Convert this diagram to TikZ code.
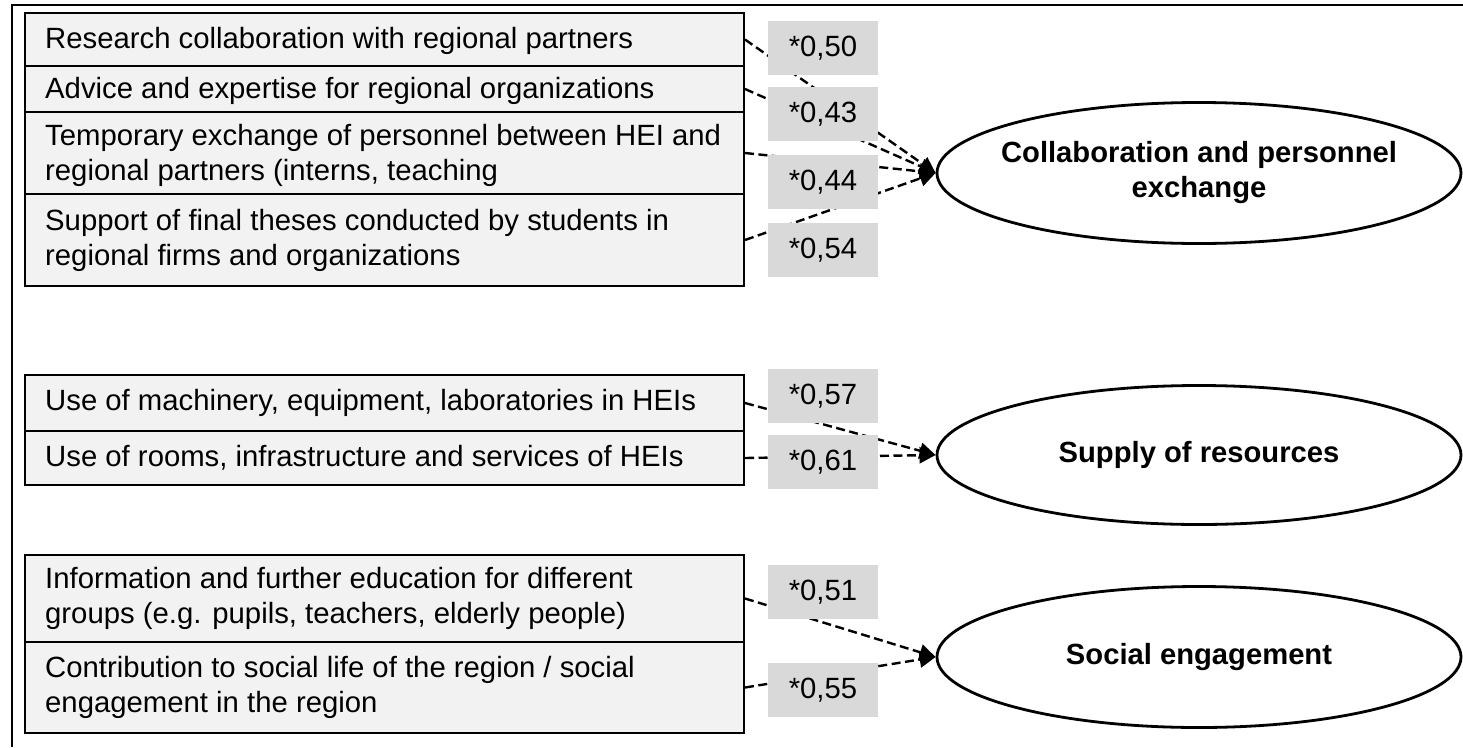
\documentclass[tikz,border=0pt]{standalone}
\usepackage{fontspec}
\setmainfont{Liberation Sans}
\usetikzlibrary{arrows.meta,shapes.geometric}
\definecolor{rowfill}{HTML}{F2F2F2}
\definecolor{labfill}{HTML}{D9D9D9}
\tikzset{
  rowbox/.style={draw=black, line width=2pt, fill=rowfill, rectangle, anchor=north west, minimum width=719pt, inner sep=0pt},
  rowtext/.style={anchor=west, align=left, inner sep=0pt, font=\fontsize{29.3}{35}\selectfont},
  latent/.style={draw=black, line width=2.8pt, ellipse, minimum width=524pt, minimum height=141pt, inner sep=0pt},
  latenttext/.style={align=center, inner sep=0pt, font=\fontsize{29.2}{35}\selectfont\bfseries},
  loading/.style={fill=labfill, minimum width=110pt, minimum height=54pt, inner sep=0pt, font=\fontsize{29.3}{35}\selectfont},
  conn/.style={line width=2.4pt, dash pattern=on 9pt off 4.5pt, -{Triangle[length=16pt,width=16pt]}},
  frameline/.style={line width=2.8pt}
}
\begin{document}
\begin{tikzpicture}[x=1pt,y=-1pt]
\useasboundingbox (0,0) rectangle (1463,747);
% frame
\coordinate (f1) at (12,747);
\coordinate (f2) at (12,5);
\coordinate (f3) at (1463,5);
\draw[frameline] (f1) -- (f2) -- (f3);
% group 1 rows
\node[rowbox, minimum height=53pt] (r1) at (24,12) {};
\node[rowbox, minimum height=46pt] (r2) at (24,65) {};
\node[rowbox, minimum height=82pt] (r3) at (24,111) {};
\node[rowbox, minimum height=92pt] (r4) at (24,193) {};
% group 2 rows
\node[rowbox, minimum height=56pt] (r5) at (24,374) {};
\node[rowbox, minimum height=54pt] (r6) at (24,430) {};
% group 3 rows
\node[rowbox, minimum height=87pt] (r7) at (24,554) {};
\node[rowbox, minimum height=91pt] (r8) at (24,641) {};
% texts
\node[rowtext] (t1) at ([xshift=21pt,yshift=-1pt]r1.west) {Research collaboration with regional partners};
\node[rowtext] (t2) at ([xshift=21pt,yshift=-2pt]r2.west) {Advice and expertise for regional organizations};
\node[rowtext] (t3) at ([xshift=21pt,yshift=-2pt]r3.west) {Temporary exchange of personnel between HEI and\\regional partners (interns, teaching};
\node[rowtext] (t4) at ([xshift=21pt]r4.west) {Support of final theses conducted by students in\\regional firms and organizations};
\node[rowtext] (t5) at ([xshift=21pt]r5.west) {Use of machinery, equipment, laboratories in HEIs};
\node[rowtext] (t6) at ([xshift=21pt]r6.west) {Use of rooms, infrastructure and services of HEIs};
\node[rowtext] (t7) at ([xshift=21pt]r7.west) {Information and further education for different\\groups (e.g. pupils, teachers, elderly people)};
\node[rowtext] (t8) at ([xshift=21pt]r8.west) {Contribution to social life of the region / social\\engagement in the region};
% latent variables
\node[latent] (e1) at (1199,173) {};
\node[latent, minimum height=139pt] (e2) at (1199,455) {};
\node[latent] (e3) at (1199,657) {};
\node[latenttext] (e1t) at (e1.center) {Collaboration and personnel\\exchange};
\node[latenttext] (e2t) at (e2.center) {Supply of resources};
\node[latenttext] (e3t) at (e3.center) {Social engagement};
% connectors
\draw[conn] (r1.east) -- (e1.west);
\draw[conn] (r2.east) -- (e1.west);
\draw[conn] (r3.east) -- (e1.west);
\draw[conn] (r4.east) -- (e1.west);
\draw[conn] (r5.east) -- (e2.west);
\draw[conn] (r6.east) -- (e2.west);
\draw[conn] (r7.east) -- (e3.west);
\draw[conn] (r8.east) -- (e3.west);
% loadings
\node[loading] (l1) at (823,48) {*0,50};
\node[loading] (l2) at (823,114) {*0,43};
\node[loading] (l3) at (823,182) {*0,44};
\node[loading] (l4) at (823,250) {*0,54};
\node[loading] (l5) at (823,396) {*0,57};
\node[loading] (l6) at (823,462) {*0,61};
\node[loading] (l7) at (823,592) {*0,51};
\node[loading] (l8) at (823,690) {*0,55};
\end{tikzpicture}
\end{document}
